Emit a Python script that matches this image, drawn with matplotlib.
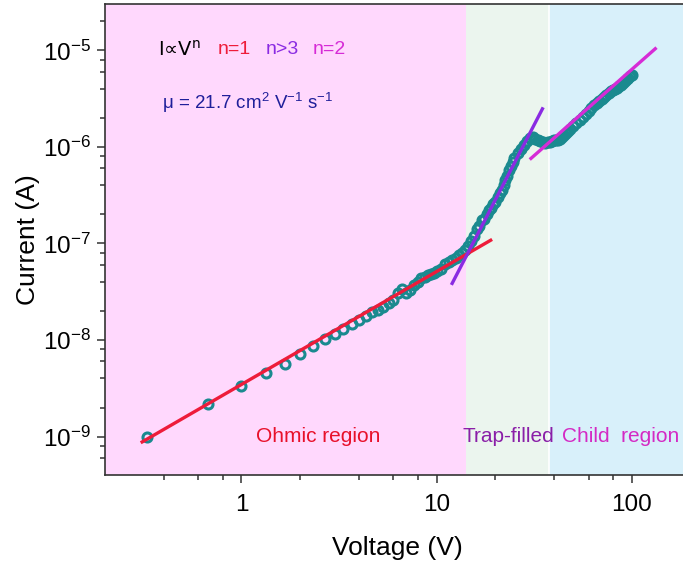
import numpy as np
import matplotlib
matplotlib.use('Agg')
import matplotlib.pyplot as plt
from matplotlib.ticker import FixedLocator, FuncFormatter, NullFormatter

plt.rcParams['font.family'] = ['Liberation Sans', 'DejaVu Sans']
plt.rcParams['mathtext.default'] = 'regular'

# measured I-V points (V, A)
volt = [0.33, 0.67, 1.0, 1.33, 1.67, 2.0, 2.33, 2.67, 3.0, 3.33, 3.67, 4.0, 4.33, 4.67,
        5.0, 5.33, 5.67, 6.0, 6.33, 6.67, 7.0, 7.33, 7.67, 8.0, 8.33, 8.67, 9.0, 9.33,
        9.67, 10.0, 10.5, 11.0, 11.5, 12.0, 12.5, 13.0, 13.5, 14.0, 14.5, 15.0, 15.5,
        16.0, 16.5, 17.0, 17.5, 18.0, 18.5, 19.0, 19.5, 20.0, 20.5, 21.0, 21.5, 22.0,
        22.5, 23.0, 23.5, 24.0, 24.5, 25.0, 26.0, 27.0, 28.0, 29.0, 30.0, 31.0, 32.0,
        33.0, 34.0, 35.0, 36.0, 37.0, 38.0, 39.0, 40.0, 41.0, 42.0, 43.0, 44.0, 45.0,
        46.0, 47.0, 48.0, 50.0, 52.0, 54.0, 56.0, 58.0, 60.0, 62.0, 64.0, 66.0, 68.0,
        70.0, 72.0, 74.0, 76.0, 78.0, 80.0, 82.0, 84.0, 86.0, 88.0, 90.0, 92.0, 94.0,
        96.0, 98.0, 100.0]
curr = [1.0e-9, 2.2e-9, 3.35e-9, 4.55e-9, 5.7e-9, 7.1e-9, 8.7e-9, 1.02e-8, 1.15e-8,
        1.29e-8, 1.45e-8, 1.62e-8, 1.78e-8, 1.93e-8, 2.07e-8, 2.22e-8, 2.4e-8, 2.58e-8,
        3.05e-8, 3.35e-8, 3.1e-8, 3.3e-8, 3.75e-8, 4.0e-8, 4.35e-8, 4.5e-8, 4.7e-8,
        4.85e-8, 5.0e-8, 5.2e-8, 5.5e-8, 6.1e-8, 6.4e-8, 6.7e-8, 7.1e-8, 7.6e-8, 8.0e-8,
        8.6e-8, 9.5e-8, 1.05e-7, 1.2e-7, 1.4e-7, 1.52e-7, 1.75e-7, 1.8e-7, 2.0e-7, 2.2e-7,
        2.35e-7, 2.55e-7, 2.7e-7, 3.0e-7, 3.3e-7, 3.6e-7, 4.0e-7, 4.5e-7, 5.0e-7, 5.7e-7,
        6.4e-7, 7.0e-7, 7.6e-7, 8.7e-7, 9.6e-7, 1.05e-6, 1.15e-6, 1.24e-6, 1.26e-6,
        1.22e-6, 1.17e-6, 1.14e-6, 1.12e-6, 1.11e-6, 1.12e-6, 1.13e-6, 1.15e-6, 1.17e-6,
        1.18e-6, 1.19e-6, 1.2e-6, 1.28e-6, 1.34e-6, 1.4e-6, 1.46e-6, 1.52e-6, 1.65e-6,
        1.78e-6, 1.92e-6, 2.05e-6, 2.2e-6, 2.35e-6, 2.5e-6, 2.7e-6, 2.86e-6, 3.0e-6,
        3.15e-6, 3.3e-6, 3.45e-6, 3.6e-6, 3.75e-6, 3.9e-6, 4.0e-6, 4.1e-6, 4.25e-6,
        4.4e-6, 4.6e-6, 4.8e-6, 5.0e-6, 5.2e-6, 5.4e-6, 5.6e-6]

# fitted power-law segments (end points)
ohmic_v = [0.31, 18.9]
ohmic_i = [8.8e-10, 1.08e-7]
trap_v = [12.0, 34.8]
trap_i = [3.86e-8, 2.48e-6]
child_v = [30.4, 131.7]
child_i = [7.6e-7, 1.04e-5]

# region limits
region_edges = [0.2, 14.1, 37.5, 200]
region_colors = ['#FFD8FD', '#EBF5EE', '#D8F0FA']

# ticks
x_major = [1, 10, 100]
x_minor = [0.4, 0.6, 0.8, 2, 4, 6, 8, 20, 40, 60, 80]
y_major = [1e-9, 1e-8, 1e-7, 1e-6, 1e-5]
y_minor = [m * 10.0**e for e in range(-10, -4) for m in (2, 4, 6, 8)
           if 4e-10 < m * 10.0**e < 3e-5]

fig = plt.figure(figsize=(6.83, 5.67), dpi=100)
ax = fig.add_axes([105/683, (567-475)/567, (690.7-105)/683, (475-4.3)/567])

for i in range(3):
    ax.axvspan(region_edges[i], region_edges[i+1], color=region_colors[i], lw=0, zorder=0)
ax.axvline(region_edges[2], color='white', lw=1.2, zorder=0.5)

ax.plot(volt, curr, 'o', ms=6.5, mfc='none', mec='#1a8a8f', mew=2.2, zorder=2)
ax.plot(ohmic_v, ohmic_i, color='#EE1C3A', lw=2.4, zorder=3)
ax.plot(trap_v, trap_i, color='#8A2BE2', lw=2.4, zorder=3)
ax.plot(child_v, child_i, color='#D62BD6', lw=2.4, zorder=3)

ax.set_xscale('log')
ax.set_yscale('log')
ax.set_xlim(0.2, 200)
ax.set_ylim(4e-10, 3e-5)

ax.xaxis.set_major_locator(FixedLocator(x_major))
ax.xaxis.set_minor_locator(FixedLocator(x_minor))
ax.xaxis.set_major_formatter(FuncFormatter(lambda v, p: '%g' % v))
ax.xaxis.set_minor_formatter(NullFormatter())
ax.yaxis.set_major_locator(FixedLocator(y_major))
ax.yaxis.set_minor_locator(FixedLocator(y_minor))
ax.yaxis.set_major_formatter(FuncFormatter(lambda v, p: r'$10^{%d}$' % round(np.log10(v))))
ax.yaxis.set_minor_formatter(NullFormatter())

ax.tick_params(which='both', direction='out', top=False, right=False, labelsize=17.5,
               color='#333333', width=1.1)
ax.tick_params(which='major', length=6)
ax.tick_params(axis='x', which='major', pad=8)
ax.tick_params(axis='y', which='major', pad=4)
ax.tick_params(which='minor', length=3.5)
for s in ax.spines.values():
    s.set_color('#333333')
    s.set_linewidth(1.2)

ax.set_xlabel('Voltage (V)', fontsize=19, labelpad=14)
ax.set_ylabel('Current (A)', fontsize=19, labelpad=2)

tr = ax.transAxes
fx = lambda px: (px - 105) / (690.7 - 105)
fy = lambda py: (475 - py) / (475 - 4.3)
ax.text(fx(158), fy(50), 'I∝V$^{n}$', fontsize=14, color='black', transform=tr,
        va='center', family='DejaVu Sans')
ax.text(fx(218), fy(50), 'n=1', fontsize=14, color='#EE1C3A', transform=tr, va='center')
ax.text(fx(266), fy(50), 'n>3', fontsize=14, color='#8A2BE2', transform=tr, va='center')
ax.text(fx(313), fy(50), 'n=2', fontsize=14, color='#D62BD6', transform=tr, va='center')
ax.text(fx(162), fy(103), r'μ = 21.7 cm$^{2}$ V$^{-1}$ s$^{-1}$', fontsize=13.5,
        color='#1F1F9A', transform=tr, va='center')

ax.text(fx(318), fy(436), 'Ohmic region', fontsize=15, color='#E8102A', transform=tr,
        ha='center', va='center')
ax.text(fx(508), fy(436), 'Trap-filled', fontsize=15, color='#8A1FA8', transform=tr,
        ha='center', va='center')
ax.text(fx(621), fy(436), 'Child  region', fontsize=15, color='#D42AC4', transform=tr,
        ha='center', va='center')

fig.savefig('out.png', dpi=100)
